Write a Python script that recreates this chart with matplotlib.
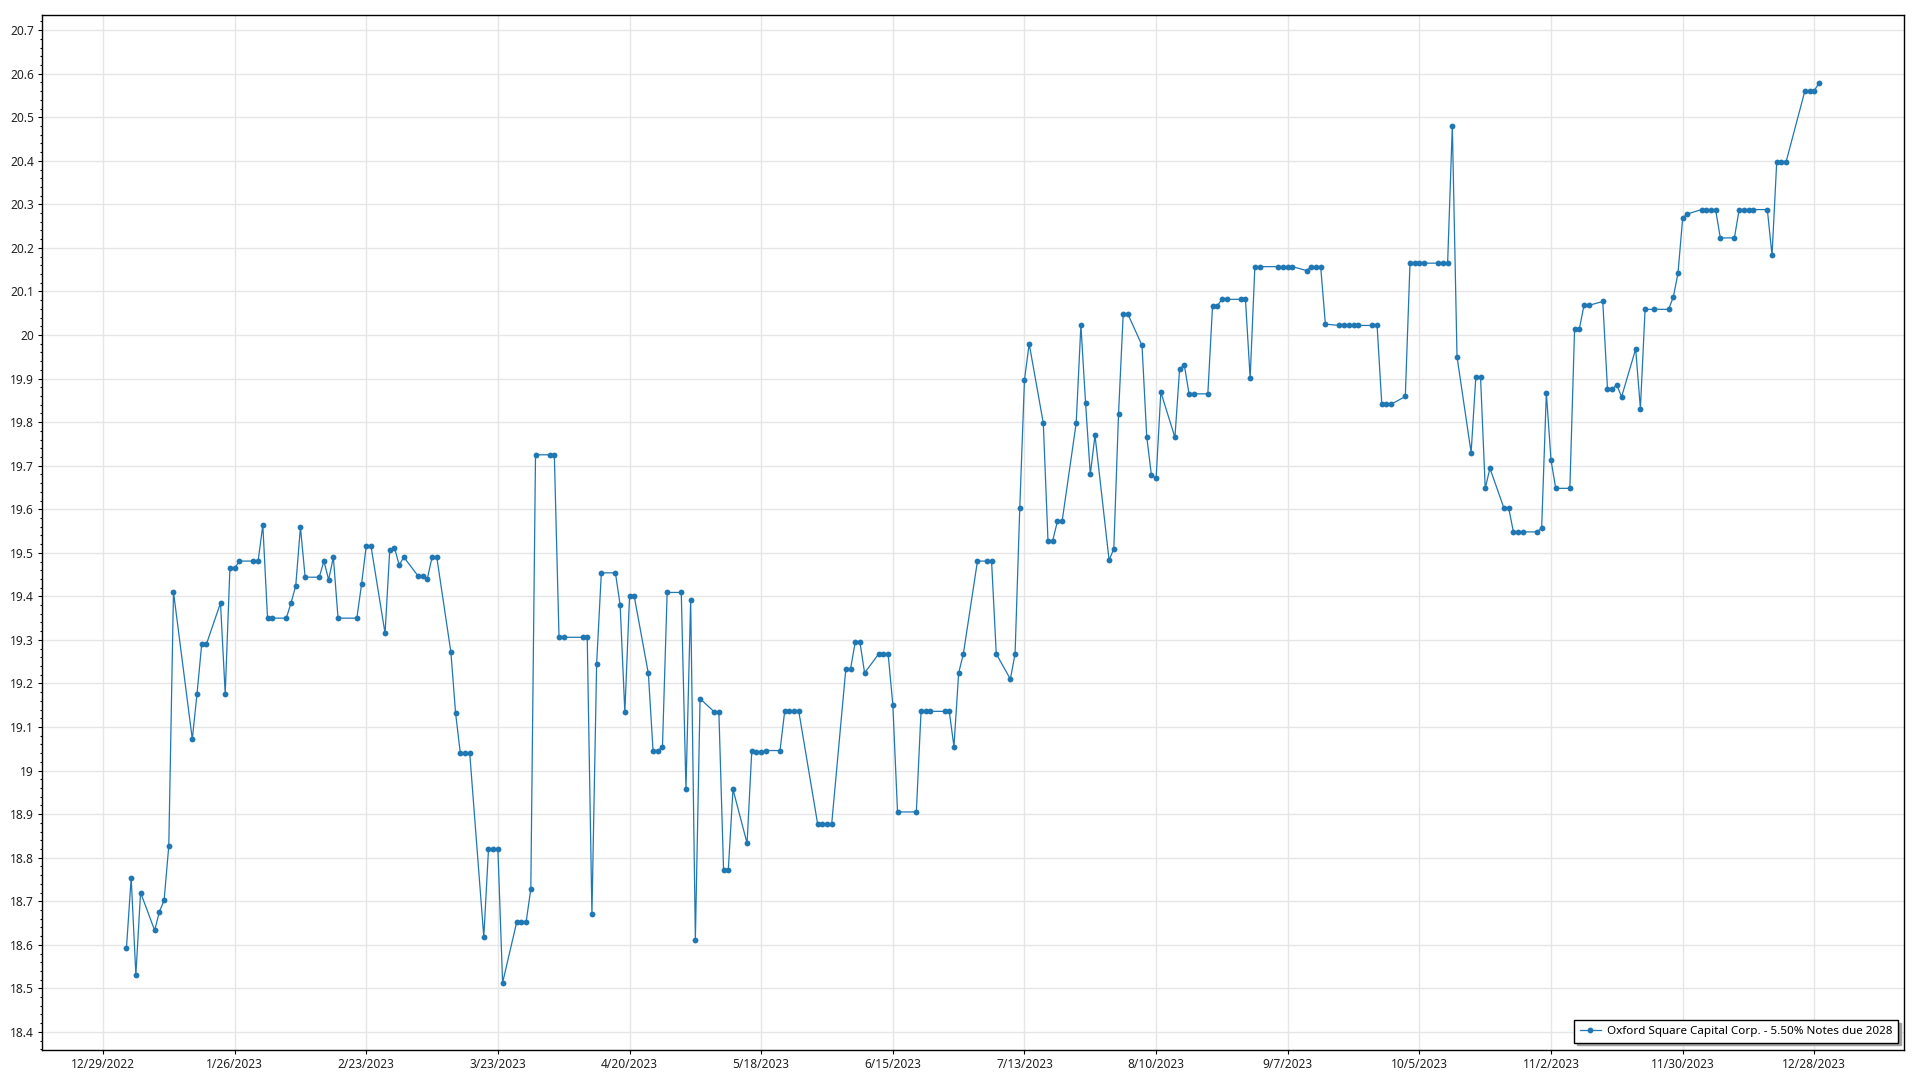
# Oxford Square Capital Corp. 5.50% Notes due 2028 - daily prices, 2023
import numpy as np
import pandas as pd
import matplotlib
matplotlib.use('Agg')
import matplotlib.pyplot as plt
from matplotlib.ticker import FixedLocator, MultipleLocator, FuncFormatter

series_name = 'Oxford Square Capital Corp. - 5.50% Notes due 2028'

# trading days with a price (month-day, all 2023)
dates = [
    '01-03', '01-04', '01-05', '01-06', '01-09', '01-10', '01-11', '01-12', '01-13',
    '01-17', '01-18', '01-19', '01-20', '01-23', '01-24', '01-25', '01-26', '01-27',
    '01-30', '01-31', '02-01', '02-02', '02-03', '02-06', '02-07', '02-08', '02-09',
    '02-10', '02-13', '02-14', '02-15', '02-16', '02-17', '02-21', '02-22', '02-23',
    '02-24', '02-27', '02-28', '03-01', '03-02', '03-03', '03-06', '03-07', '03-08',
    '03-09', '03-10', '03-13', '03-14', '03-15', '03-16', '03-17', '03-20', '03-21',
    '03-22', '03-23', '03-24', '03-27', '03-28', '03-29', '03-30', '03-31', '04-03',
    '04-04', '04-05', '04-06', '04-10', '04-11', '04-12', '04-13', '04-14', '04-17',
    '04-18', '04-19', '04-20', '04-21', '04-24', '04-25', '04-26', '04-27', '04-28',
    '05-01', '05-02', '05-03', '05-04', '05-05', '05-08', '05-09', '05-10', '05-11',
    '05-12', '05-15', '05-16', '05-17', '05-18', '05-19', '05-22', '05-23', '05-24',
    '05-25', '05-26', '05-30', '05-31', '06-01', '06-02', '06-05', '06-06', '06-07',
    '06-08', '06-09', '06-12', '06-13', '06-14', '06-15', '06-16', '06-20', '06-21',
    '06-22', '06-23', '06-26', '06-27', '06-28', '06-29', '06-30', '07-03', '07-05',
    '07-06', '07-07', '07-10', '07-11', '07-12', '07-13', '07-14', '07-17', '07-18',
    '07-19', '07-20', '07-21', '07-24', '07-25', '07-26', '07-27', '07-28', '07-31',
    '08-01', '08-02', '08-03', '08-04', '08-07', '08-08', '08-09', '08-10', '08-11',
    '08-14', '08-15', '08-16', '08-17', '08-18', '08-21', '08-22', '08-23', '08-24',
    '08-25', '08-28', '08-29', '08-30', '08-31', '09-01', '09-05', '09-06', '09-07',
    '09-08', '09-11', '09-12', '09-13', '09-14', '09-15', '09-18', '09-19', '09-20',
    '09-21', '09-22', '09-25', '09-26', '09-27', '09-28', '09-29', '10-02', '10-03',
    '10-04', '10-05', '10-06', '10-09', '10-10', '10-11', '10-12', '10-13', '10-16',
    '10-17', '10-18', '10-19', '10-20', '10-23', '10-24', '10-25', '10-26', '10-27',
    '10-30', '10-31', '11-01', '11-02', '11-03', '11-06', '11-07', '11-08', '11-09',
    '11-10', '11-13', '11-14', '11-15', '11-16', '11-17', '11-20', '11-21', '11-22',
    '11-24', '11-27', '11-28', '11-29', '11-30', '12-01', '12-04', '12-05', '12-06',
    '12-07', '12-08', '12-11', '12-12', '12-13', '12-14', '12-15', '12-18', '12-19',
    '12-20', '12-21', '12-22', '12-26', '12-27', '12-28', '12-29',
]

prices = [
    18.593, 18.754, 18.531, 18.720, 18.633, 18.676, 18.702, 18.827, 19.410,
    19.072, 19.176, 19.290, 19.290, 19.385, 19.176, 19.464, 19.464, 19.481,
    19.481, 19.481, 19.564, 19.350, 19.350, 19.350, 19.385, 19.424, 19.559,
    19.444, 19.444, 19.481, 19.438, 19.490, 19.350, 19.350, 19.428, 19.516,
    19.516, 19.315, 19.507, 19.512, 19.472, 19.490, 19.447, 19.447, 19.441,
    19.490, 19.490, 19.272, 19.132, 19.041, 19.041, 19.041, 18.618, 18.819,
    18.819, 18.819, 18.513, 18.652, 18.652, 18.652, 18.728, 19.725, 19.725,
    19.725, 19.306, 19.306, 19.306, 19.306, 18.670, 19.245, 19.454, 19.454,
    19.380, 19.134, 19.400, 19.400, 19.223, 19.046, 19.046, 19.054, 19.409,
    19.409, 18.957, 19.392, 18.612, 19.165, 19.135, 19.135, 18.771, 18.771,
    18.957, 18.833, 19.046, 19.042, 19.042, 19.046, 19.046, 19.136, 19.136,
    19.136, 19.136, 18.878, 18.878, 18.878, 18.878, 19.233, 19.233, 19.295,
    19.295, 19.224, 19.268, 19.268, 19.268, 19.151, 18.905, 18.905, 19.136,
    19.136, 19.136, 19.136, 19.136, 19.055, 19.224, 19.268, 19.481, 19.481,
    19.481, 19.268, 19.210, 19.268, 19.603, 19.897, 19.980, 19.798, 19.528,
    19.528, 19.572, 19.572, 19.798, 20.023, 19.843, 19.680, 19.770, 19.483,
    19.509, 19.818, 20.048, 20.048, 19.976, 19.767, 19.678, 19.671, 19.869,
    19.765, 19.923, 19.931, 19.865, 19.865, 19.865, 20.067, 20.067, 20.082,
    20.082, 20.082, 20.082, 19.901, 20.157, 20.157, 20.157, 20.157, 20.157,
    20.157, 20.148, 20.157, 20.157, 20.157, 20.025, 20.022, 20.022, 20.022,
    20.022, 20.022, 20.022, 20.022, 19.841, 19.841, 19.841, 19.859, 20.165,
    20.165, 20.165, 20.165, 20.165, 20.165, 20.165, 20.480, 19.950, 19.730,
    19.904, 19.904, 19.648, 19.694, 19.602, 19.602, 19.548, 19.548, 19.548,
    19.548, 19.557, 19.867, 19.712, 19.648, 19.648, 20.013, 20.013, 20.068,
    20.068, 20.077, 19.877, 19.877, 19.885, 19.858, 19.968, 19.831, 20.059,
    20.059, 20.059, 20.087, 20.142, 20.269, 20.278, 20.288, 20.288, 20.288,
    20.288, 20.223, 20.223, 20.288, 20.288, 20.288, 20.288, 20.288, 20.183,
    20.398, 20.398, 20.398, 20.561, 20.561, 20.561, 20.579,
]

# date axis ticks every 28 days
tick_dates = pd.date_range('2022-12-29', periods=14, freq='28D')

line_color = '#1f77b4'
grid_color = '#e6e6e6'

plt.rcParams['font.family'] = ['Noto Sans', 'DejaVu Sans']

x = pd.to_datetime(['2023-' + d for d in dates])
y = np.array(prices)

fig = plt.figure(figsize=(19.2, 10.8), dpi=100)
ax = fig.add_axes([0.0221, 0.0282, 0.9696, 0.958])

ax.plot(x, y, color=line_color, linewidth=0.9, marker='o', markersize=4.2,
        markeredgewidth=0, label=series_name, zorder=3)

ax.set_xlim(pd.Timestamp('2022-12-16 03:00'), pd.Timestamp('2024-01-16 02:00'))
ax.set_ylim(18.3595, 20.735)

ax.xaxis.set_major_locator(FixedLocator(matplotlib.dates.date2num(tick_dates)))
ax.set_xticklabels([f'{d.month}/{d.day}/{d.year}' for d in tick_dates])
ax.yaxis.set_major_locator(MultipleLocator(0.1))
ax.yaxis.set_minor_locator(MultipleLocator(0.02))
ax.yaxis.set_major_formatter(FuncFormatter(lambda v, p: f'{round(v, 1):g}'))

ax.grid(True, which='major', color=grid_color, linewidth=1.0, zorder=0)
ax.set_axisbelow(True)

ax.tick_params(axis='both', which='major', length=3, width=0.8, labelsize=8.6,
               colors='black', labelcolor='#222222', pad=3)
ax.tick_params(axis='y', which='minor', length=1.6, width=0.8)
for s in ax.spines.values():
    s.set_color('black')
    s.set_linewidth(1.0)

leg = ax.legend(loc='lower right', bbox_to_anchor=(0.9968, 0.0066), borderaxespad=0,
                fancybox=False, shadow={'color': '#a0a0a0', 'alpha': 1.0},
                edgecolor='black', framealpha=1, fontsize=8.4, handlelength=1.8,
                borderpad=0.5, handletextpad=0.5)
leg.get_frame().set_linewidth(1.0)

fig.savefig('out.png', dpi=100)
